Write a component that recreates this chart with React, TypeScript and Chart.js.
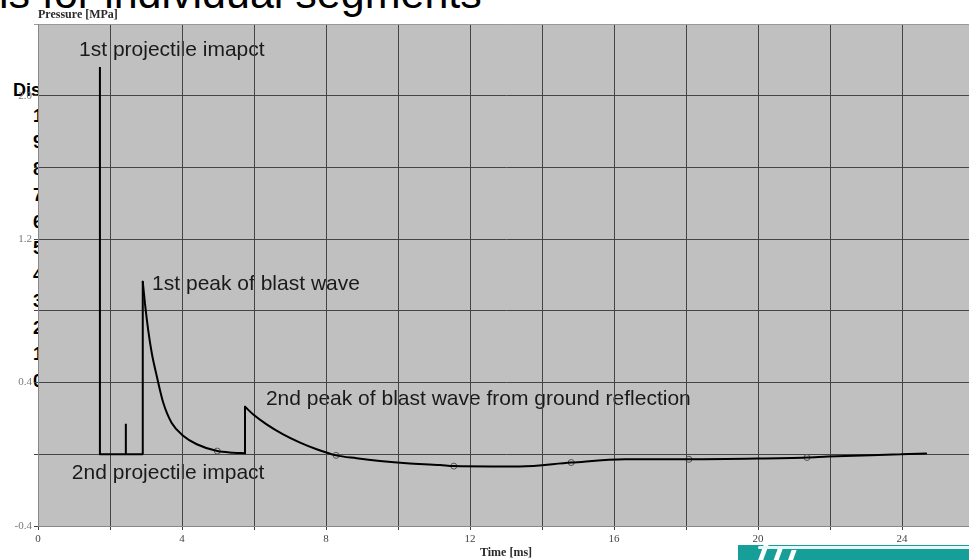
import React, { useEffect, useRef } from 'react';
import { Chart, registerables } from 'chart.js';

Chart.register(...registerables);

// ---- data ----
// projectile impacts (sharp spikes)
const impactTimeMs = [1.72, 1.72, 1.72, 2.44, 2.44, 2.44, 2.91];
const impactPressureMPa = [0, 2.16, 0, 0, 0.17, 0, 0];
// first blast wave decay
const blast1TimeMs = [2.91, 2.97, 3.06, 3.16, 3.3, 3.48, 3.71, 4.04, 4.41, 4.98, 5.43, 5.75];
const blast1PressureMPa = [0.963, 0.843, 0.694, 0.565, 0.435, 0.287, 0.176, 0.102, 0.056, 0.018, 0.009, 0.006];
// ground-reflected blast wave decay
const blast2TimeMs = [5.75, 5.98, 6.35, 6.81, 7.28, 7.74, 8.28, 8.85, 9.5, 10.24, 11.17, 11.55, 12.6, 13.38, 14.81, 16.3, 18.08, 19.97, 21.36, 21.94, 23.96, 24.67];
const blast2PressureMPa = [0.265, 0.222, 0.167, 0.111, 0.065, 0.028, -0.006, -0.022, -0.037, -0.05, -0.06, -0.066, -0.068, -0.068, -0.046, -0.028, -0.028, -0.024, -0.018, -0.013, 0.0, 0.005];
// sample markers along the curve
const markerTimeMs = [4.98, 8.28, 11.55, 14.81, 18.08, 21.36];
const markerPressureMPa = [0.018, -0.006, -0.066, -0.046, -0.028, -0.018];

const xTickLabels = [0, 4, 8, 12, 16, 20, 24];
const yTickLabels = [-0.4, 0.4, 1.2, 2.0];

const annotationTexts = [
  '1st projectile imapct',
  '1st peak of blast wave',
  '2nd peak of blast wave from ground reflection',
  '2nd projectile impact',
];
const annotationTimeMs = [1.14, 3.17, 6.33, 0.94];
const annotationPressureMPa = [2.222, 0.917, 0.275, -0.139];

const slideTitle = 'ls for individual segments';
const slideListHeader = 'Dis';
const slideListItems = ['10', '9', '8', '7', '6', '5', '4', '3', '2', '1', '0'];

const toPoints = (xs: number[], ys: number[]) => xs.map((x, i) => ({ x, y: ys[i] }));

export default function App() {
  const ref = useRef<HTMLCanvasElement | null>(null);

  useEffect(() => {
    const canvas = ref.current;
    if (!canvas) return;

    const impacts = toPoints(impactTimeMs, impactPressureMPa);
    const blast1 = toPoints(blast1TimeMs, blast1PressureMPa);
    const blast2 = toPoints(blast2TimeMs, blast2PressureMPa);
    const markers = toPoints(markerTimeMs, markerPressureMPa);

    const lineBase = {
      borderColor: '#000000',
      borderWidth: 2,
      pointRadius: 0,
      fill: false,
      borderJoinStyle: 'bevel',
      borderCapStyle: 'round',
    };

    const decorPlugin = {
      id: 'decor',
      beforeDraw(chart: any) {
        const { ctx, chartArea, scales } = chart;
        const { left, top, right, bottom } = chartArea;
        ctx.save();
        ctx.fillStyle = '#c0c0c0';
        ctx.fillRect(left, top, right - left, bottom - top);
        ctx.fillStyle = '#1a1a1a';
        ctx.font = '21px "Liberation Sans", Arial, sans-serif';
        ctx.textAlign = 'left';
        ctx.textBaseline = 'alphabetic';
        annotationTexts.forEach((txt, i) => {
          ctx.fillText(
            txt,
            scales.x.getPixelForValue(annotationTimeMs[i]),
            scales.y.getPixelForValue(annotationPressureMPa[i])
          );
        });
        ctx.restore();
      },
      afterDraw(chart: any) {
        const { ctx, chartArea } = chart;
        const { left, right, top, bottom } = chartArea;
        ctx.save();
        ctx.fillStyle = '#2a2a2a';
        ctx.font = 'bold 12px "Liberation Serif", "Times New Roman", serif';
        ctx.textBaseline = 'alphabetic';
        ctx.textAlign = 'left';
        ctx.fillText('Pressure [MPa]', left, top - 6);
        ctx.textAlign = 'center';
        ctx.fillText('Time [ms]', (left + right) / 2, bottom + 30);
        ctx.restore();
      },
    };

    const chart = new Chart(canvas, {
      type: 'line',
      data: {
        datasets: [
          { ...lineBase, data: [...impacts, blast1[0]], tension: 0 },
          { ...lineBase, data: blast1, cubicInterpolationMode: 'monotone' },
          { ...lineBase, data: [blast1[blast1.length - 1], blast2[0]], tension: 0 },
          { ...lineBase, data: blast2, cubicInterpolationMode: 'monotone' },
          {
            data: markers,
            showLine: false,
            pointRadius: 3,
            pointBorderColor: '#555555',
            pointBackgroundColor: 'rgba(0,0,0,0)',
            pointBorderWidth: 1,
          },
        ],
      } as any,
      options: {
        responsive: false,
        animation: false,
        devicePixelRatio: 1,
        layout: { padding: { top: 24, right: 16, left: 0, bottom: 0 } },
        plugins: {
          legend: { display: false },
          tooltip: { enabled: false },
          title: { display: false },
        },
        scales: {
          x: {
            type: 'linear',
            min: 0,
            max: 26,
            afterFit: (s: any) => {
              s.height = 34;
            },
            ticks: {
              stepSize: 2,
              autoSkip: false,
              maxRotation: 0,
              padding: 3,
              color: '#444444',
              font: { family: '"Liberation Serif", "Times New Roman", serif', size: 11 },
              callback: (v: any) => (xTickLabels.some((l) => Math.abs(l - v) < 1e-6) ? String(Math.round(v)) : ''),
            },
            grid: { color: '#444444', lineWidth: 1, tickLength: 4 },
            border: { color: '#888888', width: 1 },
          },
          y: {
            min: -0.4,
            max: 2.4,
            afterFit: (s: any) => {
              s.width = 38;
            },
            ticks: {
              stepSize: 0.4,
              padding: 2,
              color: '#777777',
              font: { family: '"Liberation Serif", "Times New Roman", serif', size: 11 },
              callback: (v: any) => {
                const m = yTickLabels.find((l) => Math.abs(l - v) < 1e-6);
                return m === undefined ? '' : m.toFixed(1);
              },
            },
            grid: {
              color: (c: any) => (c.tick && Math.abs(c.tick.value - 2.4) < 1e-6 ? '#999999' : '#444444'),
              lineWidth: 1,
              tickLength: 4,
            },
            border: { color: '#888888', width: 1 },
          },
        },
      } as any,
      plugins: [decorPlugin],
    });

    return () => chart.destroy();
  }, []);

  const bold18 = {
    fontFamily: '"Liberation Sans", Arial, sans-serif',
    fontWeight: 700,
    fontSize: 18,
    lineHeight: '18px',
  } as React.CSSProperties;

  return (
    <div
      style={{
        position: 'absolute',
        left: 0,
        top: 0,
        width: 969,
        height: 560,
        overflow: 'hidden',
        background: '#ffffff',
      }}
    >
      <div
        style={{
          position: 'absolute',
          left: -1,
          top: -28,
          fontFamily: '"Liberation Sans", Arial, sans-serif',
          fontSize: 43,
          lineHeight: '43px',
          color: '#000',
          whiteSpace: 'nowrap',
        }}
      >
        {slideTitle}
      </div>
      <div style={{ ...bold18, position: 'absolute', left: 13, top: 96 - 15.2, color: '#000', whiteSpace: 'nowrap' }}>
        {slideListHeader}
      </div>
      {slideListItems.map((s, i) => (
        <div
          key={i}
          style={{ ...bold18, position: 'absolute', left: 33, top: 122 + 26.5 * i - 15.2, color: '#000' }}
        >
          {s}
        </div>
      ))}
      <div
        style={{
          position: 'absolute',
          left: 738,
          top: 545,
          width: 240,
          height: 20,
          background: '#169e99',
          overflow: 'hidden',
        }}
      >
        <div style={{ position: 'absolute', left: 22, top: 0, width: 5, height: 20, background: '#fff', transform: 'skewX(-20deg)' }} />
        <div style={{ position: 'absolute', left: 36, top: 4, width: 5, height: 20, background: '#fff', transform: 'skewX(-20deg)' }} />
        <div style={{ position: 'absolute', left: 50, top: 5, width: 5, height: 20, background: '#fff', transform: 'skewX(-20deg)' }} />
        <div style={{ position: 'absolute', left: 20, top: 1, width: 230, height: 3, background: '#e8f8f8', borderRadius: 3 }} />
      </div>
      <canvas
        ref={ref}
        width={990}
        height={560}
        style={{ position: 'absolute', left: 0, top: 0, display: 'block', width: 990, height: 560 }}
      />
    </div>
  );
}
